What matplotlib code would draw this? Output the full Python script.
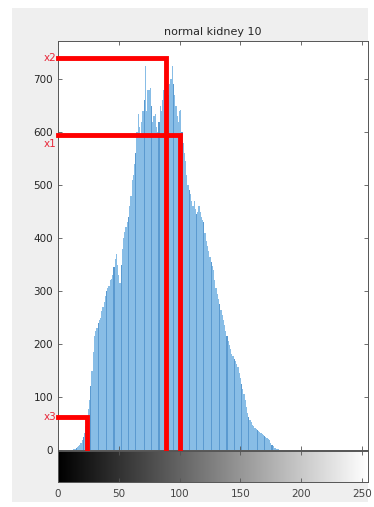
import numpy as np
import matplotlib.pyplot as plt
from matplotlib.patches import Rectangle

# histogram counts, bins 0..255
counts_low = [0] * 13
counts_mid = [1, 2, 3, 5, 7, 10, 14, 19, 25, 33, 45, 60, 78, 95, 120, 150, 185,
              215, 225, 230, 240, 245, 250, 262, 270, 280, 290, 300, 305, 310,
              320, 322, 330, 345, 360, 370, 350, 330, 316, 350, 380, 400, 411,
              420, 430, 440, 460, 480, 510, 520, 540, 560, 600, 635, 610, 590,
              620, 640, 660, 725, 640, 680, 680, 683, 650, 620, 630, 635, 610,
              600, 620, 650, 640, 660, 680, 680, 660, 650, 670, 690, 700, 725,
              690, 670, 650, 630, 620, 640, 641, 600, 580, 560, 546, 520, 500,
              490, 484, 470, 460, 470, 455, 445, 450, 461, 450, 440, 435, 430,
              410, 395, 385, 375, 365, 355, 348, 340, 320, 305, 295, 285, 275,
              265, 255, 245, 235, 225, 215, 205, 198, 190, 182, 177, 172, 168,
              162, 157, 145, 135, 125, 115, 105, 95, 82, 70, 62, 57, 52, 48, 45,
              42, 40, 38, 36, 34, 32, 30, 28, 26, 24, 22, 20, 18, 14, 10, 7, 4,
              3, 2, 1]
counts = counts_low + counts_mid
counts = counts + [0] * (256 - len(counts))
bins = np.arange(256)

# threshold markers (gray level, count)
marker_names = ["x2", "x1", "x3"]
marker_x = [89, 100, 24]
marker_y = [740, 595, 63]

title = "normal kidney 10"

W, H = 374, 507
fig = plt.figure(figsize=(W / 100, H / 100), dpi=100)
fig.patch.set_facecolor("white")
fig.patches.append(Rectangle((12 / W, 1 - 502 / H), (368 - 12) / W, (502 - 8) / H,
                             transform=fig.transFigure, facecolor="#efefef",
                             edgecolor="none", zorder=-10))

ax = fig.add_axes([58 / W, 1 - 450 / H, 310 / W, 409 / H])
cax = fig.add_axes([58 / W, 1 - 482 / H, 310 / W, 31 / H])

# every ~6th stem looks darker in the picture
dark = set(int(round(52 + 6.2 * k)) for k in range(-8, 23))
colors = ["#5b9ad0" if b in dark else "#88bde6" for b in bins]
ax.bar(bins, counts, width=1.0, color=colors, linewidth=0)

for name, mx, my in zip(marker_names, marker_x, marker_y):
    ax.plot([0, mx, mx], [my, my, 0], color="red", lw=3.5, solid_joinstyle="miter",
            clip_on=False, zorder=5)
off = {"x2": 0, "x1": -7, "x3": 0}
for name, my in zip(marker_names, marker_y):
    ax.annotate(name, xy=(0, my), xytext=(-1, off[name]), textcoords="offset points",
                ha="right", va="center", color="#e8283a", fontsize=7.5)

ax.set_xlim(0, 255)
ax.set_ylim(0, 772)
ax.set_yticks([0, 100, 200, 300, 400, 500, 600, 700])
ax.set_xticks([0, 50, 100, 150, 200, 250])
ax.tick_params(axis="both", direction="in", length=3, width=0.6, colors="#555555",
               labelcolor="#262626", labelsize=7.5, top=True, right=True,
               labelbottom=False)
for s in ax.spines.values():
    s.set_color("#555555")
    s.set_linewidth(0.7)
ax.set_title(title, fontsize=8, color="#262626", pad=4)

cax.imshow(bins[np.newaxis, :], cmap="gray", aspect="auto", extent=(0, 255, 0, 1),
           interpolation="bilinear")
cax.set_xlim(0, 255)
cax.set_ylim(0, 1)
cax.set_xticks([0, 50, 100, 150, 200, 250])
cax.set_yticks([])
cax.tick_params(axis="x", direction="in", length=3, width=0.6, colors="#555555",
                labelcolor="#444444", labelsize=7.5, top=True, pad=5)
for s in cax.spines.values():
    s.set_color("#555555")
    s.set_linewidth(0.7)

fig.savefig("out.png", dpi=100)
